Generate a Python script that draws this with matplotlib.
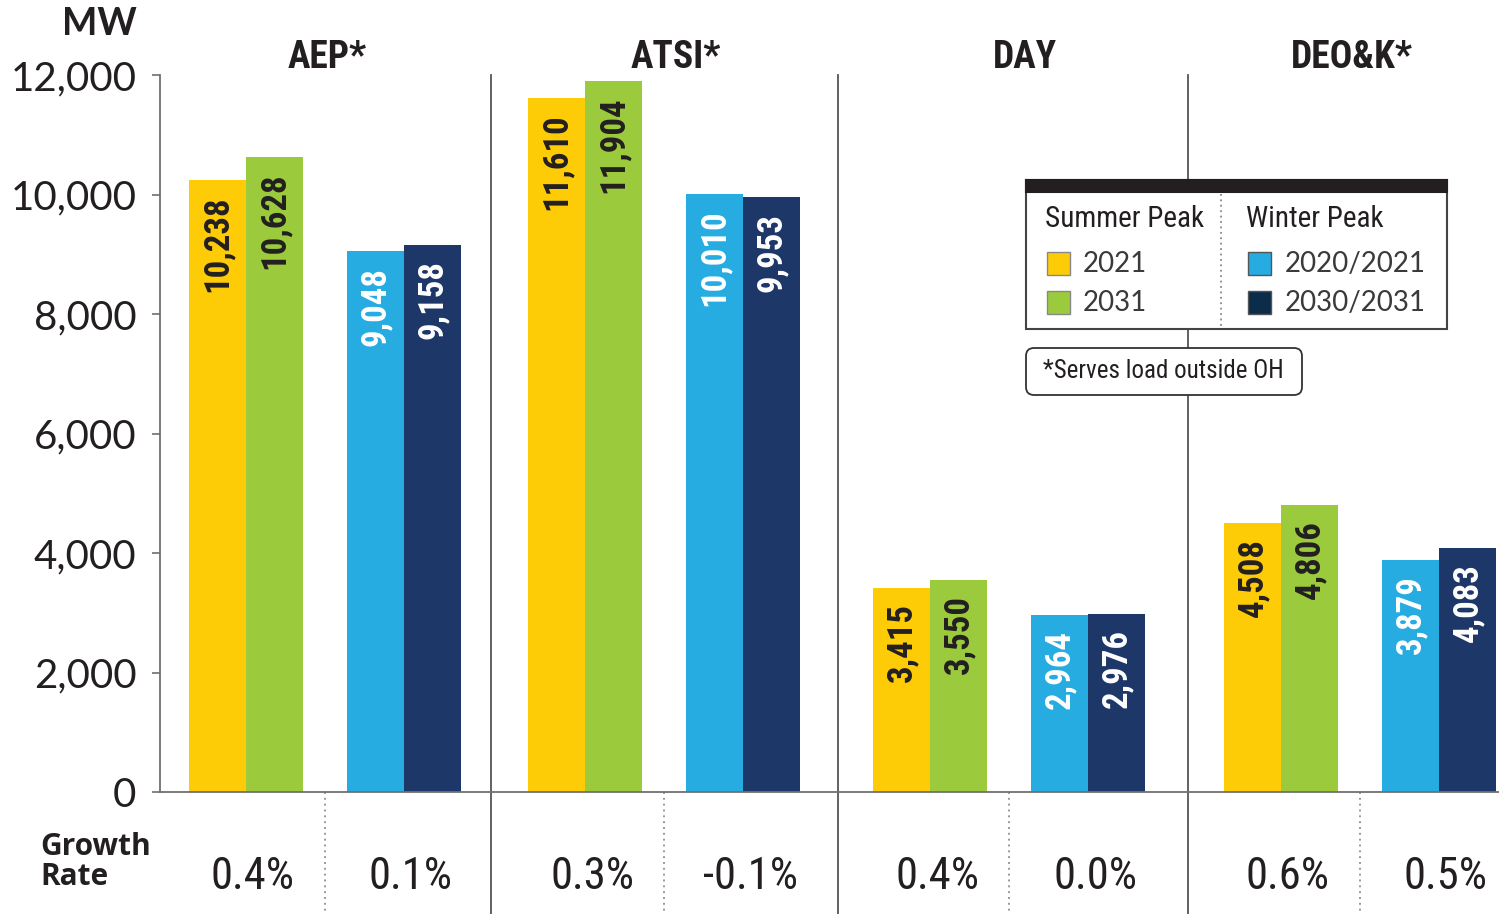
import matplotlib
matplotlib.use('Agg')
import matplotlib.pyplot as plt
from matplotlib import font_manager as fm
from matplotlib.patches import Rectangle, FancyBboxPatch
from matplotlib.ticker import FuncFormatter
import matplotlib.transforms as mtransforms

# ---------------- data ----------------
groups = ['AEP*', 'ATSI*', 'DAY', 'DEO&K*']
summer_2021 = [10238, 11610, 3415, 4508]
summer_2031 = [10628, 11904, 3550, 4806]
winter_2021 = [9048, 10010, 2964, 3879]
winter_2031 = [9158, 9953, 2976, 4083]
summer_growth = ['0.4%', '0.3%', '0.4%', '0.6%']
winter_growth = ['0.1%', '-0.1%', '0.0%', '0.5%']
yticks = [0, 2000, 4000, 6000, 8000, 10000, 12000]
legend_summer = ['2021', '2031']
legend_winter = ['2020/2021', '2030/2031']

# ---------------- layout / style ----------------
group_x = [0.0, 0.983, 1.983, 3.0]
sep_x = [0.710, 1.716, 2.730]
title_off = [0.235, 0.262, 0.275, 0.206]

YELLOW = '#FECC07'
GREEN = '#9BCA3C'
BLUE = '#27ACE2'
NAVY = '#1D3768'
DARK = '#231F20'
GRAY = '#707070'

names = {f.name for f in fm.fontManager.ttflist}
def pick(*cands):
    for c in cands:
        if c in names:
            return c
    return 'DejaVu Sans'

COND = pick('Roboto Condensed', 'Noto Sans Condensed', 'Liberation Sans Narrow',
            'Open Sans Condensed', 'DejaVu Sans')
GEO = pick('Lato', 'Open Sans')
HUM = pick('Open Sans', 'Noto Sans')

def cond(size, weight='normal'):
    return fm.FontProperties(family=COND, stretch='condensed', size=size, weight=weight)

W, H = 1499, 914
fig = plt.figure(figsize=(W / 100, H / 100), dpi=100)
ax = fig.add_axes([160 / W, 122 / H, 1339 / W, 717 / H])

bw = 0.165
pair_off = 0.458
series = [(summer_2021, YELLOW, DARK, 0, -1),
          (summer_2031, GREEN, DARK, 0, 1),
          (winter_2021, BLUE, 'white', 1, -1),
          (winter_2031, NAVY, 'white', 1, 1)]

for vals, col, tcol, p, side in series:
    xs = [gx + p * pair_off + side * bw / 2 for gx in group_x]
    ax.bar(xs, vals, width=bw, color=col, edgecolor='none', zorder=2)
    for x, v in zip(xs, vals):
        ax.annotate(f'{v:,}', (x, v), xytext=(0, -11), textcoords='offset points',
                    rotation=90, ha='center', va='top', color=tcol,
                    fontproperties=cond(25, 'bold'), zorder=3)

ax.set_xlim(-0.2493, 3.632)
ax.set_ylim(0, 12000)
ax.set_yticks(yticks)
ax.yaxis.set_major_formatter(FuncFormatter(lambda v, _: f'{int(v):,}'))
ax.set_xticks([])
for s in ['top', 'right']:
    ax.spines[s].set_visible(False)
for s in ['left', 'bottom']:
    ax.spines[s].set_color(GRAY)
    ax.spines[s].set_linewidth(1.3)
ax.tick_params(axis='y', length=6, width=1.2, color=GRAY, pad=11, labelcolor=DARK)
for lab in ax.get_yticklabels():
    lab.set_fontfamily(GEO)
    lab.set_fontweight('normal')
    lab.set_fontsize(29)

bt = mtransforms.blended_transform_factory(ax.transData, ax.transAxes)
bottom_ax = -122 / 717
# group separators
for sx in sep_x:
    ax.plot([sx, sx], [1.0, bottom_ax], transform=bt, color='#555555',
            lw=1.3, clip_on=False, zorder=1)
# dotted separators between summer and winter
for gx in group_x:
    ax.plot([gx + 0.23, gx + 0.23], [0, bottom_ax], transform=bt, color='#9a9a9a',
            lw=1.4, ls=(0, (1, 2)), clip_on=False, zorder=1)

# group titles
for gx, off, name in zip(group_x, title_off, groups):
    ax.text(gx + off, 1.0098, name, transform=bt, ha='center', va='baseline',
            fontproperties=cond(27, 'bold'), color=DARK)

# growth rates
for gx, sg, wg in zip(group_x, summer_growth, winter_growth):
    ax.text(gx + 0.02, -0.1186, sg, transform=bt, ha='center', va='center',
            fontproperties=cond(32), color=DARK)
    ax.text(gx + pair_off + 0.02, -0.1186, wg, transform=bt, ha='center',
            va='center', fontproperties=cond(32), color=DARK)

# ---------------- overlay (pixel coords) ----------------
ov = fig.add_axes([0, 0, 1, 1], zorder=5)
ov.set_xlim(0, W)
ov.set_ylim(H, 0)
ov.axis('off')
ov.patch.set_alpha(0)

ov.text(137, 24, 'MW', ha='right', va='center', family=GEO, weight='bold',
        fontsize=27, color=DARK)
ov.text(40, 862, 'Growth\nRate', ha='left', va='center', family=HUM, weight='bold',
        fontsize=21.5, color=DARK, linespacing=0.98)

# legend box
ov.add_patch(Rectangle((1026, 180), 421, 149, fc='white', ec='#444444', lw=1.5))
ov.add_patch(Rectangle((1026, 180), 421, 12, fc=DARK, ec=DARK, lw=1.5))
ov.plot([1221, 1221], [194, 326], ls=(0, (1, 2)), color='#888888', lw=1.3)
ov.text(1045, 219, 'Summer Peak', ha='left', va='center', fontproperties=cond(21),
        color=DARK)
ov.text(1246, 219, 'Winter Peak', ha='left', va='center', fontproperties=cond(21),
        color=DARK)
for i, (lab, col) in enumerate(zip(legend_summer, [YELLOW, GREEN])):
    y = 252 + i * 39
    ov.add_patch(Rectangle((1047, y), 23, 23, fc=col, ec='#888888', lw=1))
    ov.text(1083, y + 12, lab, ha='left', va='center', family=GEO, fontsize=20,
            color='#3a3a3a')
for i, (lab, col) in enumerate(zip(legend_winter, [BLUE, '#0C2D4A'])):
    y = 252 + i * 39
    ov.add_patch(Rectangle((1248, y), 23, 23, fc=col, ec='#555555', lw=1))
    ov.text(1285, y + 12, lab, ha='left', va='center', family=GEO, fontsize=20,
            color='#3a3a3a')

ov.add_patch(FancyBboxPatch((1026, 348), 276, 47,
                            boxstyle='round,pad=0,rounding_size=8',
                            fc='white', ec='#333333', lw=1.3))
ov.text(1043, 371, '*Serves load outside OH', ha='left', va='center',
        fontproperties=cond(18), color=DARK)

fig.savefig('out.png', dpi=100, facecolor='white')
